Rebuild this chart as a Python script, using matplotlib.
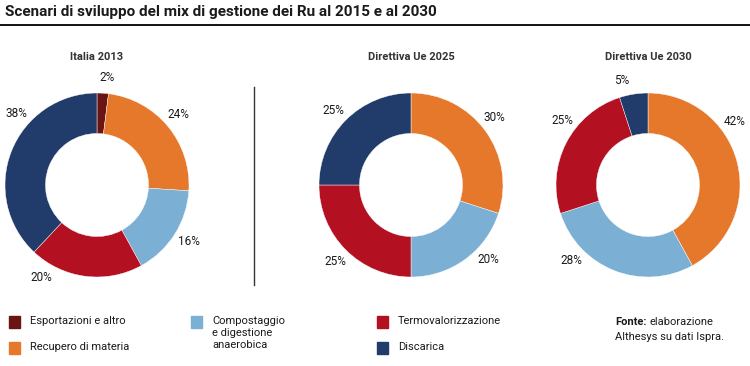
import numpy as np
import matplotlib
matplotlib.use("Agg")
import matplotlib.pyplot as plt
from matplotlib.patches import Rectangle

plt.rcParams["font.family"] = ["Roboto", "DejaVu Sans"]

categories = ["Esportazioni e altro", "Recupero di materia",
              "Compostaggio\ne digestione\nanaerobica", "Termovalorizzazione", "Discarica"]
colors = ["#6b1414", "#e5782a", "#7bafd4", "#b31022", "#213c6a"]

chart_titles = ["Italia 2013", "Direttiva Ue 2025", "Direttiva Ue 2030"]
italia_2013 = [2, 24, 16, 20, 38]
ue_2025 = [0, 30, 20, 25, 25]
ue_2030 = [0, 42, 28, 25, 5]
series = [italia_2013, ue_2025, ue_2030]

# small angular nudges (deg) so labels sit like the original
label_nudge = [[-2, 1, 1, -24, -20], [0, 3, 10, 0, 1], [0, 22, -24, -10, 5]]

W, H = 750, 366
fig = plt.figure(figsize=(W / 100, H / 100), dpi=100)

fig.text(5 / W, 1 - 12 / H, "Scenari di sviluppo del mix di gestione dei Ru al 2015 e al 2030",
         fontsize=11, fontweight="bold", va="center", ha="left", color="#1a1a1a")
fig.add_artist(plt.Line2D([0, 1], [1 - 24.5 / H, 1 - 24.5 / H], color="black", lw=1.3))

centers_x = [97, 411, 648]
cy = 185
r_px = 92
half = 130

for i, vals in enumerate(series):
    cx = centers_x[i]
    ax = fig.add_axes([(cx - half) / W, (H - cy - half) / H, 2 * half / W, 2 * half / H])
    idx = [k for k, v in enumerate(vals) if v > 0]
    v = [vals[k] for k in idx]
    wedges, _ = ax.pie(v, colors=[colors[k] for k in idx], startangle=90, counterclock=False,
                       radius=1, wedgeprops=dict(width=0.44, edgecolor="white", linewidth=0.3))
    lim = half / r_px
    ax.set_xlim(-lim, lim)
    ax.set_ylim(-lim, lim)
    ax.set_aspect("equal")
    ax.axis("off")
    for w, k in zip(wedges, idx):
        ang = np.deg2rad((w.theta1 + w.theta2) / 2 + label_nudge[i][k])
        ax.text(1.17 * np.cos(ang), 1.17 * np.sin(ang), f"{vals[k]}%", ha="center", va="center",
                fontsize=8.5, color="#1a1a1a")
    fig.text(cx / W, 1 - 57 / H, chart_titles[i], ha="center", va="center", fontsize=8,
             fontweight="bold", color="#333333")

fig.add_artist(plt.Line2D([254 / W, 254 / W], [1 - 87 / H, 1 - 285 / H], color="#333333", lw=1))

# legend
legend_pos = [(9, 316), (9, 342), (191, 316), (377, 316), (377, 342)]
for k, (lx, ly) in enumerate(legend_pos):
    fig.add_artist(Rectangle((lx / W, 1 - (ly + 12) / H), 11 / W, 12 / H, color=colors[k],
                             transform=fig.transFigure))
    fig.text((lx + 21) / W, 1 - (ly + 0) / H, categories[k], ha="left", va="top", fontsize=8,
             color="#1a1a1a", linespacing=1.25)

fonte = fig.text(615 / W, 1 - 322 / H, "Fonte:", ha="left", va="center", fontsize=8,
                 fontweight="bold", color="#1a1a1a")
renderer = fig.canvas.get_renderer()
bb = fonte.get_window_extent(renderer)
fig.text((bb.x1 + 3) / W, 1 - 322 / H, "elaborazione", ha="left", va="center", fontsize=8,
         color="#1a1a1a")
fig.text(615 / W, 1 - 337 / H, "Althesys su dati Ispra.", ha="left", va="center", fontsize=8,
         color="#1a1a1a")

fig.savefig("out.png", dpi=100)
